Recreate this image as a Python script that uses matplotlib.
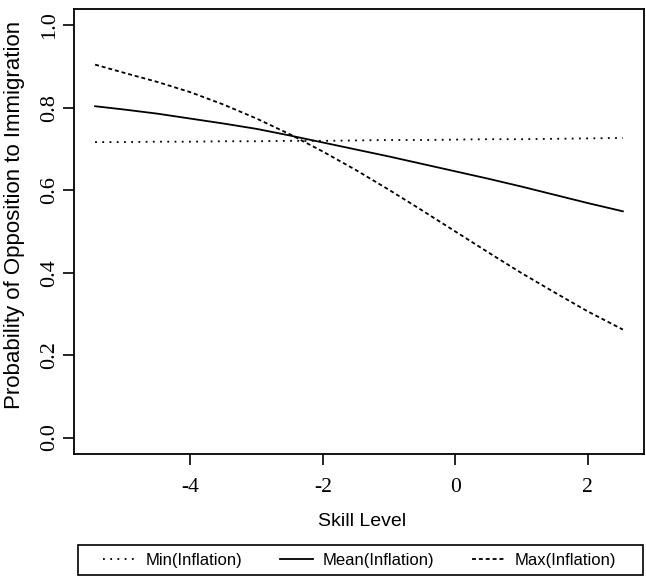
import matplotlib
matplotlib.use("Agg")
import matplotlib.pyplot as plt
from matplotlib.patches import Rectangle

# Skill level grid and predicted probabilities
skill = [-5.44, -5.0, -4.5, -4.0, -3.5, -3.0, -2.5, -2.0, -1.5, -1.0,
         -0.5, 0.0, 0.5, 1.0, 1.5, 2.0, 2.53]
p_min = [0.717, 0.717, 0.718, 0.718, 0.719, 0.719, 0.720, 0.720, 0.721,
         0.722, 0.722, 0.723, 0.724, 0.724, 0.725, 0.726, 0.727]
p_mean = [0.804, 0.796, 0.786, 0.774, 0.762, 0.749, 0.733, 0.716, 0.699,
          0.682, 0.664, 0.646, 0.628, 0.609, 0.589, 0.569, 0.549]
p_max = [0.905, 0.885, 0.863, 0.838, 0.808, 0.774, 0.736, 0.694, 0.649,
         0.601, 0.551, 0.500, 0.449, 0.399, 0.352, 0.306, 0.262]

labels = ["Min(Inflation)", "Mean(Inflation)", "Max(Inflation)"]
x_ticks = [-4, -2, 0, 2]
y_ticks = [0.0, 0.2, 0.4, 0.6, 0.8, 1.0]

SERIF = "Liberation Serif"
SANS = "Liberation Sans"
W, H = 646, 578

fig = plt.figure(figsize=(W / 100, H / 100), dpi=100)
ax = fig.add_axes([74 / W, 1 - 454 / H, 570 / W, 445 / H])

lw = 1.3
l1, = ax.plot(skill, p_min, color="black", lw=lw, linestyle=(0, (1, 3)))
l2, = ax.plot(skill, p_mean, color="black", lw=lw, linestyle="-")
l3, = ax.plot(skill, p_max, color="black", lw=lw, linestyle=(0, (2.2, 1.6)))

# R-style 4% padding
xr = skill[-1] - skill[0]
ax.set_xlim(skill[0] - 0.04 * xr, skill[-1] + 0.04 * xr)
ax.set_ylim(-0.04, 1.04)

ax.set_xticks(x_ticks)
ax.set_xticklabels([str(t) for t in x_ticks], fontfamily=SERIF, fontsize=15.5)
ax.set_yticks(y_ticks)
ax.set_yticklabels([f"{t:.1f}" for t in y_ticks], fontfamily=SERIF, fontsize=16,
                   rotation=90, va="center")
ax.tick_params(direction="out", length=8, width=1.2)
ax.tick_params(axis="x", pad=9)
ax.tick_params(axis="y", pad=3)
for sp in ax.spines.values():
    sp.set_linewidth(1.3)

ax.set_xlabel("Skill Level", fontfamily=SANS, fontsize=14)
ax.xaxis.set_label_coords((362 - 74) / 570, (454 - 521) / 445)
ax.xaxis.label.set_va("center")
ax.set_ylabel("Probability of Opposition to Immigration", fontfamily=SANS,
              fontsize=16)
ax.yaxis.set_label_coords((15 - 74) / 570, (454 - 215) / 445)
ax.yaxis.label.set_va("center")

# legend box drawn as a plain frame, entries spread inside it
fig.add_artist(Rectangle((78 / W, 1 - 575 / H), 565 / W, 30 / H,
                         transform=fig.transFigure, fill=False,
                         edgecolor="black", lw=1.2))
fig.legend([l1, l2, l3], labels, ncol=3, loc="center left",
           bbox_to_anchor=(103 / W, 1 - 575 / H, 513 / W, 30 / H),
           mode="expand", prop={"family": SANS, "size": 12},
           frameon=False, handlelength=2.0, handletextpad=0.55,
           borderpad=0, borderaxespad=0)

fig.savefig("out.png", dpi=100)
